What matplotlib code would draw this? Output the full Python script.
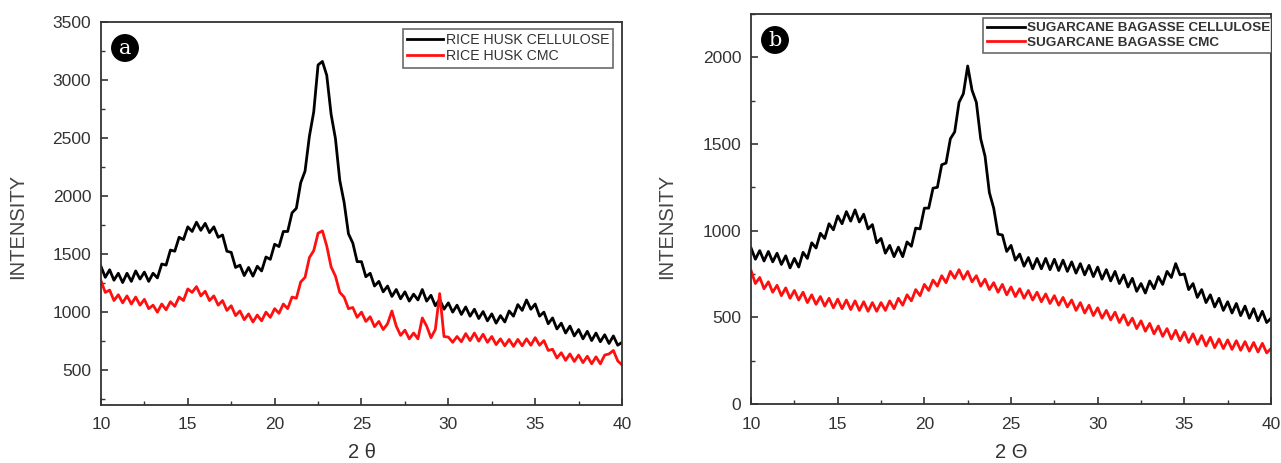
import matplotlib
matplotlib.use("Agg")
import matplotlib.pyplot as plt
from matplotlib.ticker import MultipleLocator
import numpy as np

plt.rcParams['font.family'] = ['Liberation Sans', 'DejaVu Sans']

# 2-theta grid, 0.25 deg steps (noise included)
two_theta = np.arange(10, 40.001, 0.25)

rice_cellulose = [
    1395, 1300, 1365, 1275, 1335, 1255, 1335, 1265, 1355, 1285, 1345, 1265,
    1335, 1295, 1415, 1405, 1535, 1525, 1645, 1625, 1735, 1695, 1775, 1705,
    1765, 1685, 1735, 1645, 1665, 1525, 1515, 1385, 1405, 1315, 1385, 1310,
    1395, 1355, 1475, 1455, 1585, 1565, 1695, 1695, 1855, 1895, 2115, 2215,
    2515, 2725, 3130, 3160, 3040, 2705, 2495, 2135, 1945, 1675, 1595, 1435,
    1435, 1305, 1335, 1225, 1265, 1175, 1225, 1135, 1195, 1115, 1175, 1095,
    1155, 1105, 1195, 1095, 1145, 1055, 1110, 1025, 1080, 1000, 1060, 980,
    1045, 965, 1025, 945, 1005, 925, 985, 905, 970, 915, 1010, 965,
    1065, 1015, 1105, 1025, 1070, 965, 1000, 900, 950, 855, 905, 820,
    880, 795, 850, 770, 835, 755, 820, 745, 805, 730, 795, 715,
    740]

rice_cmc = [
    1270, 1170, 1190, 1100, 1150, 1080, 1140, 1070, 1130, 1060, 1110, 1030,
    1060, 1000, 1070, 1020, 1090, 1050, 1130, 1100, 1200, 1170, 1220, 1140,
    1180, 1100, 1140, 1060, 1100, 1015, 1055, 970, 1010, 935, 985, 915,
    975, 925, 1000, 955, 1030, 990, 1070, 1030, 1130, 1120, 1260, 1300,
    1470, 1530, 1680, 1700, 1570, 1390, 1310, 1170, 1130, 1030, 1040, 955,
    1000, 920, 960, 875, 920, 850, 900, 1010, 880, 800, 845, 770,
    820, 770, 950, 880, 780, 850, 1160, 790, 785, 740, 790, 745,
    815, 755, 820, 750, 810, 740, 790, 720, 770, 710, 765, 705,
    765, 710, 770, 715, 780, 715, 755, 670, 680, 605, 650, 585,
    640, 575, 630, 565, 620, 555, 615, 555, 630, 640, 670, 580,
    545]

bagasse_cellulose = [
    900, 835, 885, 825, 880, 820, 870, 805, 855, 785, 840, 790,
    875, 840, 930, 900, 985, 955, 1040, 1005, 1085, 1040, 1110, 1055,
    1120, 1050, 1095, 1010, 1035, 930, 955, 870, 915, 850, 905, 850,
    935, 910, 1015, 1010, 1130, 1130, 1245, 1250, 1380, 1390, 1530, 1570,
    1740, 1790, 1950, 1810, 1740, 1530, 1430, 1220, 1130, 980, 975, 880,
    915, 830, 865, 795, 845, 780, 840, 780, 840, 775, 835, 770,
    830, 765, 820, 755, 810, 745, 800, 735, 790, 720, 775, 710,
    765, 695, 745, 675, 725, 650, 695, 640, 710, 665, 735, 690,
    765, 730, 810, 745, 750, 660, 695, 615, 660, 585, 630, 560,
    610, 540, 590, 525, 580, 510, 565, 495, 550, 480, 535, 470,
    495]

bagasse_cmc = [
    770, 695, 730, 665, 705, 645, 685, 625, 670, 610, 655, 600,
    645, 585, 630, 575, 620, 565, 610, 555, 605, 550, 600, 545,
    595, 540, 590, 535, 585, 535, 585, 540, 595, 550, 610, 570,
    630, 595, 660, 625, 690, 655, 715, 680, 740, 700, 765, 725,
    775, 720, 765, 705, 740, 680, 720, 660, 700, 645, 690, 630,
    675, 620, 665, 610, 655, 600, 645, 590, 635, 580, 625, 570,
    615, 560, 600, 540, 585, 525, 570, 510, 555, 495, 540, 485,
    530, 470, 515, 455, 495, 435, 480, 420, 465, 405, 450, 390,
    435, 375, 425, 365, 415, 355, 405, 345, 395, 335, 385, 325,
    375, 320, 370, 315, 365, 310, 360, 305, 355, 300, 350, 295,
    320]

panels = [
    dict(series=[rice_cellulose, rice_cmc],
         labels=["RICE HUSK CELLULOSE", "RICE HUSK CMC"],
         ylim=(200, 3500), xlabel=u"2 \u03b8", tag="a",
         rect=[0.0788, 0.1253, 0.4068, 0.8272],
         legend_at=(403, 29), tag_xy=(125, 48), legend_size=10.2,
         ylabel_x=18, legend_weight="normal", handle=2.5),
    dict(series=[bagasse_cellulose, bagasse_cmc],
         labels=["SUGARCANE BAGASSE CELLULOSE", "SUGARCANE BAGASSE CMC"],
         ylim=(0, 2250), xlabel=u"2 \u0398", tag="b",
         rect=[0.5863, 0.1274, 0.4059, 0.8424],
         legend_at=(983, 18), tag_xy=(775, 40), legend_size=9.7,
         ylabel_x=667, legend_weight="bold", handle=2.8),
]

W, H = 1281, 463
fig = plt.figure(figsize=(W / 100, H / 100), dpi=100)

for p in panels:
    ax = fig.add_axes(p["rect"])
    ax.plot(two_theta, p["series"][0], color="black", lw=2.0, label=p["labels"][0])
    ax.plot(two_theta, p["series"][1], color="#ff1010", lw=2.0, label=p["labels"][1])
    ax.set_xlim(10, 40)
    ax.set_ylim(*p["ylim"])

    ax.xaxis.set_major_locator(MultipleLocator(5))
    ax.xaxis.set_minor_locator(MultipleLocator(2.5))
    ax.yaxis.set_major_locator(MultipleLocator(500))
    ax.yaxis.set_minor_locator(MultipleLocator(250))
    ax.tick_params(which="both", direction="in", colors="#333333", labelsize=12.5)
    ax.tick_params(which="major", length=5, width=1.2, pad=7)
    ax.tick_params(which="minor", length=3, width=1.0)
    ax.tick_params(axis="x", pad=9)
    for s in ax.spines.values():
        s.set_color("#333333")
        s.set_linewidth(1.3)

    # axis titles placed by hand
    l, b, w, h = p["rect"]
    fig.text(l + w / 2, 1 - 452 / H, p["xlabel"], fontsize=14.5, color="#333333",
             ha="center", va="center")
    fig.text(p["ylabel_x"] / W, 1 - 226 / H, "INTENSITY", rotation=90,
             fontsize=14.5, color="#444444", ha="center", va="center")

    x0, y0 = p["legend_at"]
    leg = ax.legend(loc="upper left",
                    bbox_to_anchor=(x0 / W, 1 - y0 / H),
                    bbox_transform=fig.transFigure, borderaxespad=0,
                    frameon=True, fancybox=False, borderpad=0.3,
                    handlelength=p["handle"], handletextpad=0.2, labelspacing=0.15,
                    prop=dict(size=p["legend_size"], weight=p["legend_weight"]))
    leg.get_frame().set_edgecolor("#444444")
    leg.get_frame().set_linewidth(1.2)
    leg.legendPatch.set_clip_box(ax.bbox)
    leg.legendPatch.set_clip_on(True)
    for t in leg.get_texts():
        t.set_color("#333333")
    for ln in leg.get_lines():
        ln.set_linewidth(2.0)

    # panel tag in black circle
    tx, ty = p["tag_xy"]
    fig.text(tx / W, 1 - ty / H, p["tag"], color="white", fontsize=15,
             family="DejaVu Serif", ha="center", va="center",
             bbox=dict(boxstyle="circle,pad=0.18", fc="black", ec="black"))

fig.savefig("out.png", dpi=100)
